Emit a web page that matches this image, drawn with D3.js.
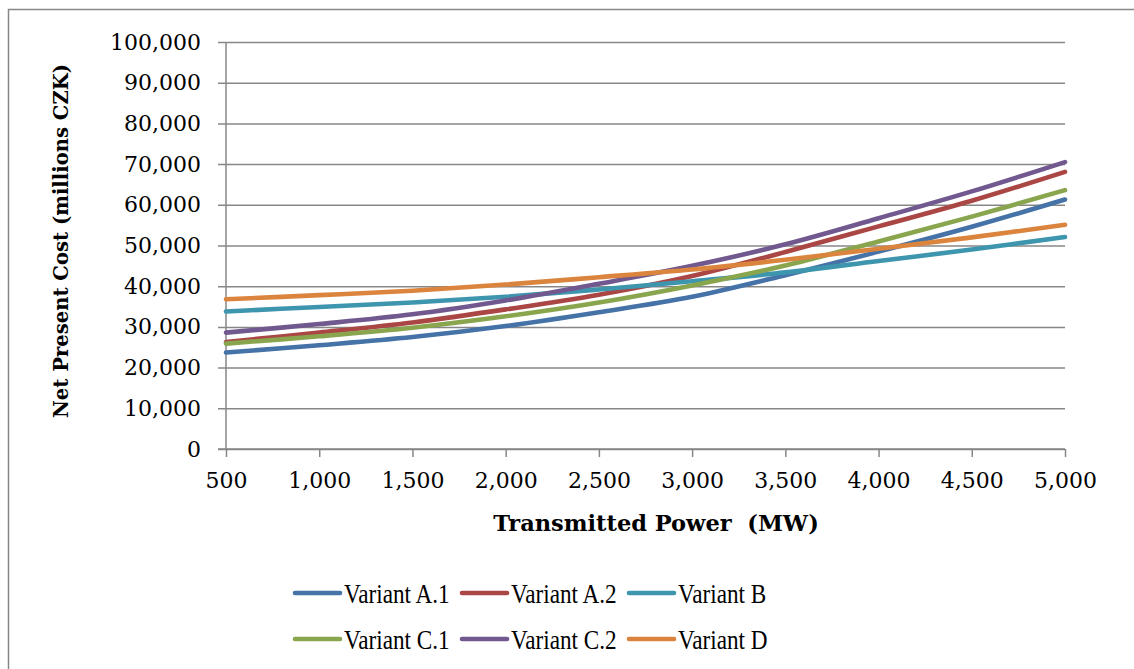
<!DOCTYPE html>
<html>
<head>
<meta charset="utf-8">
<script src="https://cdn.jsdelivr.net/npm/d3@7"></script>
<style>
  html, body { margin: 0; padding: 0; background: #ffffff; }
  svg { display: block; }
  text { font-family: "DejaVu Serif", "Liberation Serif", serif; fill: #000; }
</style>
</head>
<body>
<svg id="chart" width="1134" height="669"></svg>
<script>
// Transmitted power (MW)
const power = [500, 1000, 1500, 2000, 2500, 3000, 3500, 4000, 4500, 5000];

// Net present cost (millions CZK) per variant
const variantA1 = [23700, 25500, 27500, 30200, 33600, 37400, 42700, 48500, 54600, 61300];
const variantA2 = [26300, 28600, 31100, 34300, 37900, 42500, 48400, 54700, 61000, 68100];
const variantB  = [33800, 34900, 36000, 37400, 39200, 41200, 43400, 46200, 49000, 52100];
const variantC1 = [25900, 27700, 29800, 32600, 36000, 40200, 45100, 51000, 57100, 63600];
const variantC2 = [28600, 30700, 33100, 36500, 40600, 45000, 50300, 56700, 63300, 70500];
const variantD  = [36800, 37800, 38900, 40400, 42200, 44100, 46500, 49200, 52000, 55100];

const seriesNames = ["Variant A.1", "Variant A.2", "Variant B", "Variant C.1", "Variant C.2", "Variant D"];
const seriesValues = [variantA1, variantA2, variantB, variantC1, variantC2, variantD];
const seriesColors = ["#4572A7", "#AA4643", "#3D96AE", "#89A54E", "#71588F", "#DB843D"];

const xTicks = [500, 1000, 1500, 2000, 2500, 3000, 3500, 4000, 4500, 5000];
const yTicks = [0, 10000, 20000, 30000, 40000, 50000, 60000, 70000, 80000, 90000, 100000];

const xTitle = "Transmitted Power  (MW)";
const yTitle = "Net Present Cost (millions CZK)";

const svg = d3.select("#chart");
const gridColor = "#878787";

// outer chart frame
svg.append("rect")
  .attr("x", 8.5).attr("y", 9.5)
  .attr("width", 1300).attr("height", 800)
  .attr("fill", "#fff")
  .attr("stroke", gridColor).attr("stroke-width", 1.5);

const plotLeft = 226, plotRight = 1065, plotTop = 42, plotBottom = 449;
const x = d3.scaleLinear().domain([500, 5000]).range([plotLeft, plotRight]);
const y = d3.scaleLinear().domain([0, 100000]).range([plotBottom, plotTop]);
const fmt = d3.format(",");

// horizontal gridlines (with outward tick stubs) and y labels
const yAxis = d3.axisLeft(y)
  .tickValues(yTicks)
  .tickFormat(fmt)
  .tickSizeInner(-(plotRight - plotLeft))
  .tickSizeOuter(0)
  .tickPadding(25);
const gy = svg.append("g").attr("transform", `translate(${plotLeft},0)`).call(yAxis);
gy.select(".domain").remove();
gy.selectAll(".tick line")
  .attr("x1", -8)
  .attr("stroke", gridColor).attr("stroke-width", 1.5);
gy.selectAll(".tick text")
  .style("font-family", '"DejaVu Serif", serif')
  .style("font-size", "22px")
  .attr("fill", "#000");

// vertical axis line
svg.append("line")
  .attr("x1", plotLeft).attr("x2", plotLeft)
  .attr("y1", plotTop).attr("y2", plotBottom)
  .attr("stroke", gridColor).attr("stroke-width", 1.5);

// x axis with downward ticks
const xAxis = d3.axisBottom(x)
  .tickValues(xTicks)
  .tickFormat(fmt)
  .tickSizeInner(8)
  .tickSizeOuter(0)
  .tickPadding(15);
const gx = svg.append("g").attr("transform", `translate(0,${plotBottom})`).call(xAxis);
gx.select(".domain")
  .attr("d", `M${plotLeft - 8},0H${plotRight}`)
  .attr("stroke", gridColor).attr("stroke-width", 1.5);
gx.selectAll(".tick line").attr("stroke", gridColor).attr("stroke-width", 1.5);
gx.selectAll(".tick text")
  .style("font-family", '"DejaVu Serif", serif')
  .style("font-size", "22px")
  .attr("fill", "#000");

// series lines
const line = d3.line()
  .x((d, i) => x(power[i]))
  .y(d => y(d))
  .curve(d3.curveCatmullRom.alpha(0.5));

svg.append("g").selectAll("path")
  .data(seriesValues)
  .join("path")
  .attr("d", d => line(d))
  .attr("fill", "none")
  .attr("stroke", (d, i) => seriesColors[i])
  .attr("stroke-width", 4.6)
  .attr("stroke-linecap", "round")
  .attr("stroke-linejoin", "round");

// axis titles
svg.append("text")
  .attr("x", 656).attr("y", 531)
  .attr("text-anchor", "middle")
  .style("white-space", "pre")
  .style("font-size", "22.5px")
  .style("font-weight", "bold")
  .text(xTitle);

svg.append("text")
  .attr("transform", "translate(68,241) rotate(-90)")
  .attr("text-anchor", "middle")
  .style("font-size", "19.6px")
  .style("font-weight", "bold")
  .text(yTitle);

// legend: three per row
const legendX0 = 295, legendStep = 167, legendRowY = [593, 639], swatchLen = 45;
const legend = svg.append("g").selectAll("g")
  .data(seriesNames)
  .join("g")
  .attr("transform", (d, i) => `translate(${legendX0 + (i % 3) * legendStep},${legendRowY[Math.floor(i / 3)]})`);
legend.append("line")
  .attr("x1", 0).attr("x2", swatchLen)
  .attr("y1", 0).attr("y2", 0)
  .attr("stroke", (d, i) => seriesColors[i])
  .attr("stroke-width", 4.6)
  .attr("stroke-linecap", "round");
legend.append("text")
  .attr("transform", `translate(${swatchLen + 4},0) scale(0.86,1)`)
  .attr("dy", "0.36em")
  .style("font-family", '"Liberation Serif", serif')
  .style("font-size", "27px")
  .text(d => d);
</script>
</body>
</html>
